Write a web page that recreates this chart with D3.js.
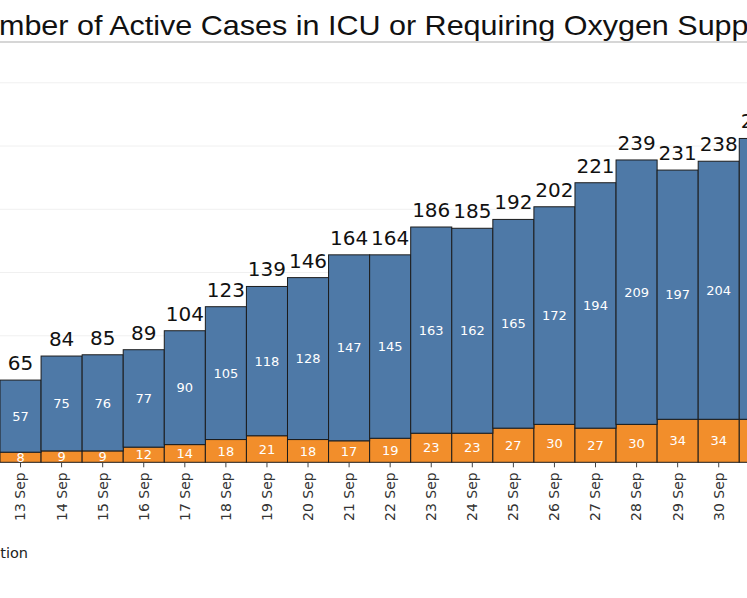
<!DOCTYPE html>
<html>
<head>
<meta charset="utf-8">
<script src="https://cdn.jsdelivr.net/npm/d3@7"></script>
<style>
  body { margin: 0; background: #fff; }
  svg { display: block; }
</style>
</head>
<body>
<div id="chart"></div>
<script>
// daily values
var days = ['13 Sep', '14 Sep', '15 Sep', '16 Sep', '17 Sep', '18 Sep', '19 Sep', '20 Sep', '21 Sep',
    '22 Sep', '23 Sep', '24 Sep', '25 Sep', '26 Sep', '27 Sep', '28 Sep', '29 Sep', '30 Sep', '1 Oct'];
var oxygenCases = [57, 75, 76, 77, 90, 105, 118, 128, 147, 145, 163, 162, 165, 172, 194, 209, 197, 204, 222];
var icuCases = [8, 9, 9, 12, 14, 18, 21, 18, 17, 19, 23, 23, 27, 30, 27, 30, 34, 34, 34];
var gridValues = [50, 100, 150, 200, 250, 300];

var width = 747, height = 598;

var rows = days.map((d, i) => ({ day: d, icu: icuCases[i], oxygen: oxygenCases[i] }));
var stack = d3.stack().keys(['icu', 'oxygen'])(rows);
var colors = { icu: '#f28e2b', oxygen: '#4e79a7' };

var x = d3.scaleBand().domain(days).range([0, 41.07 * days.length]).paddingInner(0);
var y = d3.scaleLinear().domain([0, 300]).range([462.3, 82.8]);

var svg = d3.select('#chart').append('svg')
    .attr('width', width)
    .attr('height', height);

// title: the original is cropped, "Nu" off the left edge and "Supp" ending at the right edge
var titleText = 'Number of Active Cases in ICU or Requiring Oxygen Support';
var title = svg.append('text')
    .attr('x', 0)
    .attr('y', 35)
    .attr('font-family', 'Liberation Sans, Arial, sans-serif')
    .attr('font-size', 28.5)
    .attr('fill', '#111')
    .text(titleText);
var tn = title.node();
var cutStart = tn.getSubStringLength(0, 2);
var cutEnd = tn.getSubStringLength(0, titleText.indexOf('Supp') + 4);
var sx = 750 / (cutEnd - cutStart);
title.attr('transform', `translate(${-cutStart * sx - 1},0) scale(${sx},1)`);

svg.append('line')
    .attr('x1', 0).attr('x2', width)
    .attr('y1', 42).attr('y2', 42)
    .attr('stroke', '#c8c8c8')
    .attr('stroke-width', 1.5);

// faint gridlines
svg.append('g')
    .selectAll('line')
    .data(gridValues)
    .enter().append('line')
    .attr('x1', 0).attr('x2', width)
    .attr('y1', d => y(d)).attr('y2', d => y(d))
    .attr('stroke', '#f0f0f0')
    .attr('stroke-width', 1);

var layers = svg.append('g')
    .selectAll('g')
    .data(stack)
    .enter().append('g')
    .attr('fill', d => colors[d.key]);

layers.selectAll('rect')
    .data(d => d)
    .enter().append('rect')
    .attr('x', d => x(d.data.day))
    .attr('width', x.bandwidth())
    .attr('y', d => y(d[1]))
    .attr('height', d => y(d[0]) - y(d[1]))
    .attr('stroke', '#1c1c1c')
    .attr('stroke-width', 1);

// segment labels
layers.selectAll('text')
    .data(d => d)
    .enter().append('text')
    .attr('x', d => x(d.data.day) + x.bandwidth() / 2)
    .attr('y', d => (y(d[0]) + y(d[1])) / 2)
    .attr('dy', '0.36em')
    .attr('text-anchor', 'middle')
    .attr('font-family', 'DejaVu Sans, sans-serif')
    .attr('font-size', 13)
    .attr('fill', '#fff')
    .text(d => d[1] - d[0]);

// totals above bars
svg.append('g')
    .selectAll('text')
    .data(rows)
    .enter().append('text')
    .attr('x', d => x(d.day) + x.bandwidth() / 2)
    .attr('y', d => y(d.icu + d.oxygen) - 10)
    .attr('text-anchor', 'middle')
    .attr('font-family', 'DejaVu Sans, sans-serif')
    .attr('font-size', 20)
    .attr('fill', '#111')
    .text(d => d.icu + d.oxygen);

// x axis: small ticks, rotated day labels
var axis = svg.append('g')
    .attr('transform', `translate(0,${y(0)})`)
    .call(d3.axisBottom(x).tickSize(5).tickPadding(6));
axis.select('.domain').remove();
axis.selectAll('.tick line').attr('stroke', '#444');
axis.selectAll('.tick text')
    .attr('font-family', 'DejaVu Sans, sans-serif')
    .attr('font-size', 14)
    .attr('fill', '#333')
    .attr('transform', 'rotate(-90)')
    .attr('text-anchor', 'end')
    .attr('x', -10)
    .attr('y', 0)
    .attr('dy', '0.35em');

// legend text, cut off at the left edge
svg.append('text')
    .attr('x', 28)
    .attr('y', 558)
    .attr('text-anchor', 'end')
    .attr('font-family', 'DejaVu Sans, sans-serif')
    .attr('font-size', 14.5)
    .attr('fill', '#222')
    .text('Requiring Oxygen Supplementation');
</script>
</body>
</html>
